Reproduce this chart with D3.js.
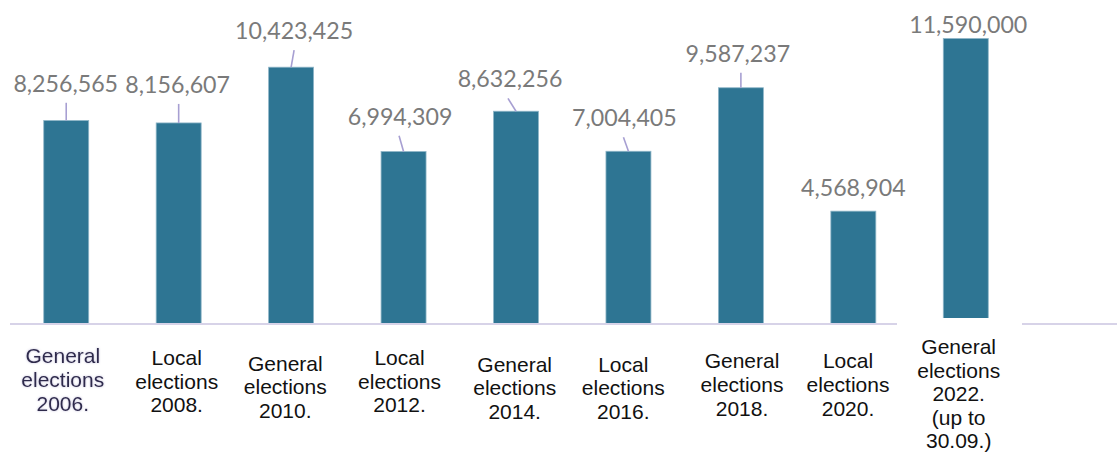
<!DOCTYPE html>
<html>
<head>
<meta charset="utf-8">
<script src="https://cdn.jsdelivr.net/npm/d3@7"></script>
<style>
  html, body { margin: 0; padding: 0; background: #ffffff; }
  svg { display: block; }
</style>
</head>
<body>
<svg id="chart" width="1117" height="453"></svg>
<script>
// Election rounds and the number of voters per round
const categories = [
  ["General", "elections", "2006."],
  ["Local", "elections", "2008."],
  ["General", "elections", "2010."],
  ["Local", "elections", "2012."],
  ["General", "elections", "2014."],
  ["Local", "elections", "2016."],
  ["General", "elections", "2018."],
  ["Local", "elections", "2020."],
  ["General", "elections", "2022.", "(up to", "30.09.)"]
];
const values = [8256565, 8156607, 10423425, 6994309, 8632256, 7004405, 9587237, 4568904, 11590000];

// Hand-placed value labels: [dx from bar centre, dy from bar top, leader dx or null]
const labelLayout = [
  [-0.5, -28.7, 0], [-1, -30, 0], [3, -28, 3], [-3.5, -26.7, -4.5], [-6, -23.8, -8],
  [-4, -25, -5], [-3, -26, 0], [0, -15.4, null], [2.5, -6, null]
];
// Baseline of the first line of each category label
const catLabelTop = [363.3, 365, 370.7, 365, 371.7, 371.7, 368.3, 368.3, 354];
const catLabelX = [62.8, 176.7, 285.3, 399.5, 514.7, 623.3, 742, 848, 958.7];

const svg = d3.select("#chart");
const baseY = 323.5;

const x = d3.scaleBand()
  .domain(d3.range(values.length))
  .range([10, 1022])
  .paddingInner(0.6)
  .paddingOuter(0.3);

const y = d3.scaleLinear()
  .domain([0, 11590000])
  .range([baseY, 38.5]);

const fmt = d3.format(",");

const defs = svg.append("defs");
const glow = defs.append("filter").attr("id", "softShadow")
  .attr("x", "-20%").attr("y", "-20%").attr("width", "140%").attr("height", "140%");
glow.append("feGaussianBlur").attr("in", "SourceAlpha").attr("stdDeviation", 1.2).attr("result", "b");
glow.append("feFlood").attr("flood-color", "#8d86b8").attr("flood-opacity", 0.55);
glow.append("feComposite").attr("in2", "b").attr("operator", "in").attr("result", "s");
const merge = glow.append("feMerge");
merge.append("feMergeNode").attr("in", "s");
merge.append("feMergeNode").attr("in", "SourceGraphic");

// Bars
svg.append("g").selectAll("rect")
  .data(values)
  .join("rect")
  .attr("x", (d, i) => x(i))
  .attr("y", d => y(d))
  .attr("width", x.bandwidth())
  .attr("height", d => y(0) - y(d))
  .attr("fill", "#2e7593")
  .attr("stroke", "#8fb6c8")
  .attr("stroke-width", 0.8);

// Category axis line
svg.append("line")
  .attr("x1", 10).attr("x2", 1117)
  .attr("y1", baseY + 0.5).attr("y2", baseY + 0.5)
  .attr("stroke", "#d7d3e8")
  .attr("stroke-width", 2);

// Leader lines from labels to bars
const cx = i => x(i) + x.bandwidth() / 2;
svg.append("g").selectAll("line")
  .data(values.map((v, i) => ({ v, i })).filter(d => labelLayout[d.i][2] !== null))
  .join("line")
  .attr("x1", d => cx(d.i) + labelLayout[d.i][2])
  .attr("y1", d => y(d.v) + labelLayout[d.i][1] + 11)
  .attr("x2", d => cx(d.i))
  .attr("y2", d => y(d.v))
  .attr("stroke", "#a79fd2")
  .attr("stroke-width", 1.6);

// Value labels
svg.append("g").selectAll("text")
  .data(values)
  .join("text")
  .attr("x", (d, i) => cx(i) + labelLayout[i][0])
  .attr("y", (d, i) => y(d) + labelLayout[i][1])
  .attr("text-anchor", "middle")
  .attr("font-family", "Lato, 'Open Sans', sans-serif")
  .attr("font-size", 23.2)
  .attr("fill", "#7a7a7a")
  .text(d => fmt(d));

// White backing behind the last category label
svg.append("rect")
  .attr("x", 897).attr("y", 318)
  .attr("width", 125).attr("height", 135)
  .attr("fill", "#ffffff");

// Category labels
const cat = svg.append("g").selectAll("text")
  .data(categories)
  .join("text")
  .attr("text-anchor", "middle")
  .attr("font-family", "'Liberation Sans', Arial, sans-serif")
  .attr("font-size", 21)
  .attr("fill", (d, i) => i === 0 ? "#2f2b4c" : "#111111")
  .attr("filter", (d, i) => i === 0 ? "url(#softShadow)" : null);

cat.selectAll("tspan")
  .data((d, i) => d.map((line, k) => ({ line, k, i })))
  .join("tspan")
  .attr("x", d => catLabelX[d.i])
  .attr("y", d => catLabelTop[d.i] + d.k * 23.6)
  .text(d => d.line);
</script>
</body>
</html>
